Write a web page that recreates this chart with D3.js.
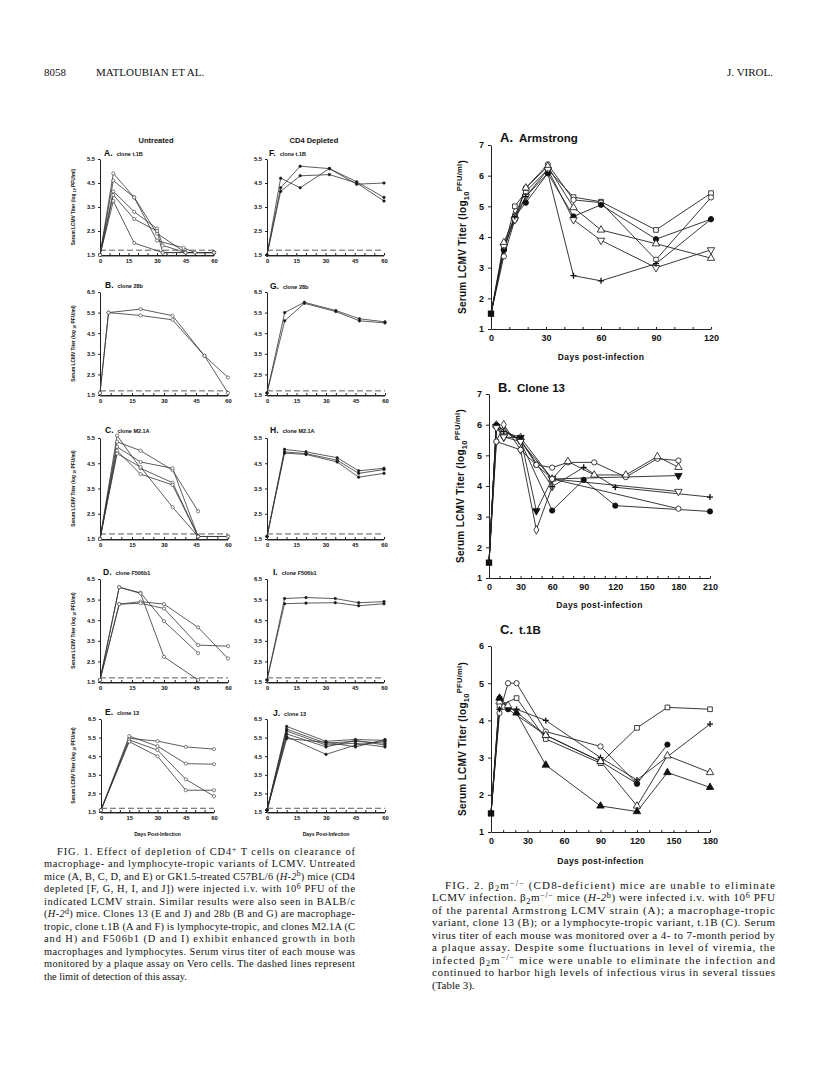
<!doctype html>
<html>
<head>
<meta charset="utf-8">
<script src="https://d3js.org/d3.v7.min.js"></script>
<style>
  body { margin: 0; background: #fff; }
  text { fill: #111; }
</style>
</head>
<body>
<script>

// ---------- data: serum titer, log10 PFU/ml, vs days post-infection ----------
var smallDays = [0, 15, 30, 45, 60];
var ticksLow = [1.5, 2.5, 3.5, 4.5, 5.5];
var ticksHigh = [1.5, 2.5, 3.5, 4.5, 5.5, 6.5];
var detectionLimit = 1.7;

// Fig 1, untreated mice
var untreatedT1B = [
  [[0,1.5],[7,4.9],[18,3.9],[30,2.4],[45,1.6],[60,1.6]],
  [[0,1.5],[7,4.6],[18,3.9],[30,2.1],[44,1.8],[50,1.6],[60,1.6]],
  [[0,1.5],[7,4.15],[18,3.3],[30,2.6],[33,1.9],[45,1.6],[60,1.6]],
  [[0,1.5],[7,4.0],[18,3.0],[30,2.5],[33,1.6],[60,1.6]],
  [[0,1.5],[7,3.75],[18,2.0],[33,1.6],[60,1.6]]
];
var untreated28b = [
  [[0,1.6],[4,5.5],[19,5.67],[34,5.35],[49,3.4],[60,2.35]],
  [[0,1.6],[4,5.5],[19,5.36],[34,5.15],[49,3.4],[60,1.6]]
];
var untreatedM21A = [
  [[0,1.5],[8,5.6],[19,4.3],[34,3.73],[46,1.6],[60,1.6]],
  [[0,1.5],[8,5.35],[19,5.0],[34,4.23],[46,2.6]],
  [[0,1.5],[8,5.15],[19,4.55],[34,4.3],[46,1.6],[60,1.6]],
  [[0,1.5],[8,5.0],[19,4.07],[34,3.64],[46,1.6]],
  [[0,1.5],[8,4.88],[19,4.35],[34,2.76],[46,1.6]]
];
var untreatedF506b1 = [
  [[0,1.6],[9,6.1],[19,5.83],[30,4.45],[46,2.9]],
  [[0,1.6],[9,6.1],[19,5.8],[30,2.72],[46,1.6]],
  [[0,1.6],[9,5.28],[19,5.4],[30,5.28],[46,4.15],[60,2.64]],
  [[0,1.6],[9,5.28],[19,5.32],[30,5.07],[46,3.29],[60,3.24]]
];
var untreatedClone13 = [
  [[0,1.6],[15,5.46],[30,5.31],[45,5.0],[60,4.88]],
  [[0,1.6],[15,5.58],[30,5.04],[45,4.1],[60,4.07]],
  [[0,1.6],[15,5.37],[30,4.83],[45,3.26],[60,2.35]],
  [[0,1.6],[15,5.28],[30,4.5],[45,2.67],[60,2.67]]
];

// Fig 1, CD4 depleted mice
var depletedT1B = [
  [[0,1.5],[7,4.7],[17,4.3],[32,5.1],[46,4.45],[60,4.5]],
  [[0,1.5],[7,4.3],[17,5.2],[32,5.1],[46,4.55],[60,3.9]],
  [[0,1.5],[7,4.15],[17,4.8],[32,4.85],[46,4.5],[60,3.75]]
];
var depleted28b = [
  [[0,1.6],[9,5.5],[19,6.0],[35,5.6],[47,5.2],[60,5.05]],
  [[0,1.6],[9,5.1],[19,5.95],[35,5.55],[47,5.1],[60,5.0]]
];
var depletedM21A = [
  [[0,1.6],[9,5.05],[20,4.95],[36,4.72],[47,4.2],[60,4.3]],
  [[0,1.6],[9,4.95],[20,4.88],[36,4.62],[47,4.1],[60,4.25]],
  [[0,1.6],[9,4.9],[20,4.85],[36,4.55],[47,3.95],[60,4.1]]
];
var depletedF506b1 = [
  [[0,1.6],[9,5.55],[20,5.6],[35,5.55],[47,5.35],[60,5.4]],
  [[0,1.6],[9,5.3],[20,5.33],[35,5.35],[47,5.2],[60,5.3]]
];
var depletedClone13 = [
  [[0,1.6],[10,6.1],[30,5.3],[45,5.4],[60,5.35]],
  [[0,1.6],[10,5.95],[30,5.2],[45,5.3],[60,5.2]],
  [[0,1.6],[10,5.85],[30,5.1],[45,5.2],[60,5.0]],
  [[0,1.6],[10,5.7],[30,5.0],[45,5.35],[60,5.1]],
  [[0,1.6],[10,5.55],[30,4.6],[45,5.1],[60,5.3]],
  [[0,1.6],[10,5.45],[30,5.25],[45,5.0],[60,5.4]]
];

// Fig 2, beta2m-/- mice (symbol, points)
var armstrongSymbols = ["sq", "ci", "cif", "tri", "itri", "plus"];
var armstrong = [
  [[0,1.5],[7,3.6],[13,5.0],[19,5.48],[31,6.2],[45,5.3],[60,5.15],[90,4.23],[120,5.43]],
  [[0,1.5],[7,3.37],[13,4.56],[19,5.6],[31,6.37],[45,5.21],[60,5.12],[90,3.26],[120,5.29]],
  [[0,1.5],[7,3.58],[13,4.67],[19,5.12],[31,6.08],[45,4.67],[60,5.05],[90,3.93],[120,4.58]],
  [[0,1.5],[7,3.82],[13,4.67],[19,5.6],[31,6.3],[45,4.96],[60,4.23],[90,3.78],[120,3.31]],
  [[0,1.5],[7,3.69],[13,4.56],[19,5.32],[31,6.2],[45,4.56],[60,3.89],[90,3.0],[120,3.58]],
  [[0,1.5],[7,3.58],[13,4.67],[19,5.32],[31,6.08],[45,2.74],[60,2.57],[90,3.13],[120,4.58]]
];
var clone13Symbols = ["ci", "tri", "itrif", "dia", "cif", "plus", "itri", "ci"];
var clone13 = [
  [[0,1.5],[7,5.94],[14,5.83],[30,5.5],[45,4.69],[60,4.6],[75,4.77],[100,4.77],[130,4.29],[160,4.89],[180,4.83]],
  [[0,1.5],[7,5.99],[14,5.77],[30,5.58],[60,4.23],[75,4.8],[100,4.36],[130,4.36],[160,4.96],[180,4.61]],
  [[0,1.5],[7,5.94],[14,5.59],[30,5.58],[45,3.19],[60,4.23],[180,4.34]],
  [[0,1.5],[7,5.45],[14,6.0],[30,5.18],[45,2.57],[60,3.98]],
  [[0,1.5],[7,5.99],[30,5.45],[60,3.2],[90,4.2],[120,3.36],[210,3.17]],
  [[0,1.5],[7,5.9],[14,5.77],[30,5.5],[60,3.98],[90,4.61],[120,3.96],[210,3.64]],
  [[0,1.5],[7,5.9],[14,5.6],[30,5.45],[60,4.23],[180,3.82]],
  [[0,1.5],[7,5.45],[30,5.18],[45,4.69],[60,4.23],[180,3.26]]
];
var t1bSymbols = ["sq", "ci", "cif", "plus", "tri", "trif"];
var t1b = [
  [[0,1.5],[7,4.4],[21,4.6],[45,3.5],[90,2.85],[120,3.8],[145,4.35],[180,4.3]],
  [[0,1.5],[7,4.2],[14,5.0],[21,5.0],[45,3.7],[90,3.3],[120,2.3]],
  [[0,1.5],[7,4.6],[14,4.3],[45,3.6],[90,2.9],[120,2.3],[145,3.35]],
  [[0,1.5],[7,4.3],[21,4.3],[45,4.0],[90,3.0],[120,2.4],[180,3.9]],
  [[0,1.5],[7,4.5],[14,4.4],[45,3.6],[90,2.9],[120,1.7],[145,3.05],[180,2.6]],
  [[0,1.5],[7,4.6],[21,4.2],[45,2.8],[90,1.7],[120,1.55],[145,2.6],[180,2.2]]
];

var fig1Caption = [
  "FIG. 1. Effect of depletion of CD4^{+} T cells on clearance of",
  "macrophage- and lymphocyte-tropic variants of LCMV. Untreated",
  "mice (A, B, C, D, and E) or GK1.5-treated C57BL/6 (*H-2*^{b}) mice (CD4",
  "depleted [F, G, H, I, and J]) were injected i.v. with 10^{6} PFU of the",
  "indicated LCMV strain. Similar results were also seen in BALB/c",
  "(*H-2*^{d}) mice. Clones 13 (E and J) and 28b (B and G) are macrophage-",
  "tropic, clone t.1B (A and F) is lymphocyte-tropic, and clones M2.1A (C",
  "and H) and F506b1 (D and I) exhibit enhanced growth in both",
  "macrophages and lymphocytes. Serum virus titer of each mouse was",
  "monitored by a plaque assay on Vero cells. The dashed lines represent",
  "the limit of detection of this assay."
];
var fig2Caption = [
  "FIG. 2. β_{2}m^{−/−} (CD8-deficient) mice are unable to eliminate",
  "LCMV infection. β_{2}m^{−/−} mice (*H-2*^{b}) were infected i.v. with 10^{6} PFU",
  "of the parental Armstrong LCMV strain (A); a macrophage-tropic",
  "variant, clone 13 (B); or a lymphocyte-tropic variant, t.1B (C). Serum",
  "virus titer of each mouse was monitored over a 4- to 7-month period by",
  "a plaque assay. Despite some fluctuations in level of viremia, the",
  "infected β_{2}m^{−/−} mice were unable to eliminate the infection and",
  "continued to harbor high levels of infectious virus in several tissues",
  "(Table 3)."
];

// ---------- drawing ----------
var sans = "'Liberation Sans', Arial, sans-serif";
var serif = "'Liberation Serif', 'Times New Roman', serif";

var svg = d3.select("body").append("svg")
    .attr("width", 816)
    .attr("height", 1076);

// writes "a^{sup}_{sub}*italic*" into a text element as tspans
function richText(sel, str, shift) {
  var parts = str.split(/(\^\{[^}]*\}|_\{[^}]*\}|\*[^*]*\*)/);
  var off = 0;
  parts.forEach(function (p) {
    if (!p) return;
    var t = sel.append("tspan"), d = 0, txt = p;
    if (p[0] == "^") { d = -shift; txt = p.slice(2, -1); t.style("font-size", "75%"); }
    else if (p[0] == "_") { d = shift * 0.6; txt = p.slice(2, -1); t.style("font-size", "75%"); }
    else if (p[0] == "*") { txt = p.slice(1, -1); t.style("font-style", "italic"); }
    t.attr("dy", d - off).text(txt);
    off = d;
  });
}

function styleAxis(g, size) {
  g.selectAll("text").style("font-family", sans).style("font-weight", "bold")
    .style("font-size", size + "px").attr("fill", "#111");
  g.selectAll("line,path").attr("stroke", "#222");
}

// header
svg.append("text").attr("x", 44).attr("y", 76).style("font-family", serif).style("font-size", "11px").text("8058");
svg.append("text").attr("x", 96).attr("y", 76).style("font-family", serif).style("font-size", "11px").text("MATLOUBIAN ET AL.");
svg.append("text").attr("x", 773).attr("y", 76).attr("text-anchor", "end").style("font-family", serif).style("font-size", "11px").text("J. VIROL.");

// column heads of fig 1
svg.append("text").attr("x", 156).attr("y", 143).attr("text-anchor", "middle")
    .style("font-family", sans).style("font-weight", "bold").style("font-size", "7.5px").text("Untreated");
svg.append("text").attr("x", 314).attr("y", 143).attr("text-anchor", "middle")
    .style("font-family", sans).style("font-weight", "bold").style("font-size", "7.5px").text("CD4  Depleted");

function smallPanel(p) {
  var x = d3.scaleLinear().domain([0, 60]).range([p.x0, p.x1]);
  var y = d3.scaleLinear().domain([1.5, p.top]).range([p.yb, p.yt]);
  var g = svg.append("g");

  g.append("g").attr("transform", "translate(" + p.x0 + ",0)")
    .call(d3.axisLeft(y).tickValues(p.top > 6 ? ticksHigh : ticksLow)
      .tickSize(2).tickSizeOuter(0).tickPadding(3).tickFormat(d3.format(".1f")))
    .call(styleAxis, 5.8);

  g.append("g").attr("transform", "translate(0," + p.yb + ")")
    .call(d3.axisBottom(x).tickValues(d3.range(0, 61, 5)).tickSize(-2).tickSizeOuter(0)
      .tickPadding(4).tickFormat(function (d) { return smallDays.indexOf(d) >= 0 ? d : ""; }))
    .call(styleAxis, 5.8);
  g.append("line").attr("x1", p.x0).attr("x2", p.x1).attr("y1", p.yb + 1.5).attr("y2", p.yb + 1.5)
    .attr("stroke", "#999").attr("stroke-width", 1);

  // limit of detection
  g.append("line").attr("x1", p.x0).attr("x2", p.x1)
    .attr("y1", y(detectionLimit)).attr("y2", y(detectionLimit))
    .attr("stroke", "#333").attr("stroke-width", 0.8).attr("stroke-dasharray", "6,3");

  var line = d3.line().x(function (d) { return x(d[0]); }).y(function (d) { return y(d[1]); });
  p.data.forEach(function (s) {
    g.append("path").attr("d", line(s)).attr("fill", "none")
      .attr("stroke", "#333").attr("stroke-width", 0.8);
  });
  p.data.forEach(function (s) {
    g.selectAll(null).data(s).enter().append("circle")
      .attr("cx", function (d) { return x(d[0]); })
      .attr("cy", function (d) { return y(d[1]); })
      .attr("r", p.filled ? 1.3 : 1.6)
      .attr("fill", p.filled ? "#111" : "#fff")
      .attr("stroke", "#333").attr("stroke-width", 0.6);
  });

  var t = g.append("text").attr("x", p.tx).attr("y", p.ty)
    .style("font-family", sans).style("font-weight", "bold");
  t.append("tspan").style("font-size", "8.5px").text(p.letter);
  t.append("tspan").attr("dx", 4).style("font-size", "5.5px").text(p.title);

  if (p.ylabel) {
    var yl = g.append("text")
      .attr("transform", "translate(75," + ((p.yt + p.yb) / 2) + ") rotate(-90)")
      .attr("text-anchor", "middle")
      .style("font-family", sans).style("font-weight", "bold").style("font-size", "4.8px");
    richText(yl, "Serum LCMV Titer (log _{10} PFU/ml)", 2);
  }
  if (p.days) {
    g.append("text").attr("x", (p.x0 + p.x1) / 2).attr("y", 836).attr("text-anchor", "middle")
      .style("font-family", sans).style("font-weight", "bold").style("font-size", "5px")
      .text("Days  Post-Infection");
  }
}

// untreated column
smallPanel({ data: untreatedT1B, letter: "A.", title: "clone  t.1B", x0: 100, x1: 214, yt: 159, yb: 255, top: 5.5, tx: 104, ty: 156, ylabel: true });
smallPanel({ data: untreated28b, letter: "B.", title: "clone  28b", x0: 100, x1: 228, yt: 292, yb: 395, top: 6.5, tx: 105, ty: 288, ylabel: true });
smallPanel({ data: untreatedM21A, letter: "C.", title: "clone  M2.1A", x0: 100, x1: 228, yt: 438, yb: 539, top: 5.5, tx: 105, ty: 433, ylabel: true });
smallPanel({ data: untreatedF506b1, letter: "D.", title: "clone  F506b1", x0: 100, x1: 228, yt: 579, yb: 682, top: 6.5, tx: 103, ty: 575, ylabel: true });
smallPanel({ data: untreatedClone13, letter: "E.", title: "clone  13", x0: 101, x1: 214, yt: 719, yb: 812, top: 6.5, tx: 105, ty: 715, ylabel: true, days: true });

// CD4 depleted column
smallPanel({ data: depletedT1B, letter: "F.", title: "clone  t.1B", x0: 267, x1: 384, yt: 159, yb: 255, top: 5.5, tx: 269, ty: 156, filled: true });
smallPanel({ data: depleted28b, letter: "G.", title: "clone  28b", x0: 267, x1: 385, yt: 292, yb: 395, top: 6.5, tx: 270, ty: 289, filled: true });
smallPanel({ data: depletedM21A, letter: "H.", title: "clone  M2.1A", x0: 267, x1: 384, yt: 438, yb: 539, top: 5.5, tx: 270, ty: 433, filled: true });
smallPanel({ data: depletedF506b1, letter: "I.", title: "clone  F506b1", x0: 267, x1: 384, yt: 579, yb: 682, top: 6.5, tx: 273, ty: 575, filled: true });
smallPanel({ data: depletedClone13, letter: "J.", title: "clone  13", x0: 267, x1: 385, yt: 719, yb: 812, top: 6.5, tx: 273, ty: 716, filled: true, days: true });

// markers for fig 2
function mark(g, type, cx, cy) {
  var m = g.append("g").attr("transform", "translate(" + cx + "," + cy + ")");
  if (type == "plus") {
    m.append("path").attr("d", "M-3,0H3M0,-3V3").attr("stroke", "#111").attr("stroke-width", 1.3);
    return;
  }
  var shapes = { sq: d3.symbolSquare, ci: d3.symbolCircle, tri: d3.symbolTriangle, itri: d3.symbolTriangle, dia: d3.symbolDiamond };
  var base = type.replace(/f$/, "");
  var filled = /f$/.test(type);
  m.append("path")
    .attr("d", d3.symbol().type(shapes[base]).size(base == "tri" || base == "itri" ? 24 : 22)())
    .attr("transform", base == "itri" ? "rotate(180)" : null)
    .attr("fill", filled ? "#111" : "#fff")
    .attr("stroke", "#111").attr("stroke-width", 0.8);
}

function bigPanel(p) {
  var x = d3.scaleLinear().domain([0, p.xmax]).range([p.x0, p.x1]);
  var y = d3.scaleLinear().domain([1, p.ymax]).range([p.yb, p.yt]);
  var g = svg.append("g");

  g.append("g").attr("transform", "translate(" + p.x0 + ",0)")
    .call(d3.axisLeft(y).tickValues(d3.range(1, p.ymax + 1)).tickSize(3).tickSizeOuter(0)
      .tickPadding(4).tickFormat(d3.format("d")))
    .call(styleAxis, 9);
  g.append("g").attr("transform", "translate(0," + p.yb + ")")
    .call(d3.axisBottom(x).tickValues(d3.range(0, p.xmax + 1, 10)).tickSize(-2).tickSizeOuter(0)
      .tickPadding(6).tickFormat(function (d) { return d % 30 ? "" : d; }))
    .call(styleAxis, 9);

  var line = d3.line().x(function (d) { return x(d[0]); }).y(function (d) { return y(d[1]); });
  p.data.forEach(function (s) {
    g.append("path").attr("d", line(s)).attr("fill", "none")
      .attr("stroke", "#222").attr("stroke-width", 0.9);
  });
  p.data.forEach(function (s, i) {
    s.forEach(function (d) {
      if (d[0] > 0) mark(g, p.symbols[i], x(d[0]), y(d[1]));
    });
  });
  // common day-0 inoculum point
  g.append("path").attr("d", d3.symbol().type(d3.symbolSquare).size(40)())
    .attr("transform", "translate(" + x(p.data[0][0][0]) + "," + y(p.data[0][0][1]) + ")")
    .attr("fill", "#111");

  var t = g.append("text").attr("x", p.x0 + 9).attr("y", p.ty)
    .style("font-family", sans).style("font-weight", "bold");
  t.append("tspan").style("font-size", "13px").text(p.letter);
  t.append("tspan").attr("dx", 6).style("font-size", "11.5px").text(p.title);

  var yl = g.append("text")
    .attr("transform", "translate(" + (p.x0 - 25) + "," + ((p.yt + p.yb) / 2) + ") rotate(-90)")
    .attr("text-anchor", "middle")
    .style("font-family", sans).style("font-weight", "bold").style("font-size", "10px")
    .style("letter-spacing", "0.3px");
  richText(yl, "Serum  LCMV  Titer  (log_{10}^{PFU/ml})", 4.5);

  g.append("text").attr("x", (p.x0 + p.x1) / 2).attr("y", p.dy).attr("text-anchor", "middle")
    .style("font-family", sans).style("font-weight", "bold").style("font-size", "8.5px")
    .style("letter-spacing", "0.4px")
    .text("Days  post-infection");
}

bigPanel({ data: armstrong, symbols: armstrongSymbols, letter: "A.", title: "Armstrong",
  xmax: 120, ymax: 7, x0: 491, x1: 711, yt: 145, yb: 329, ty: 142, dy: 360 });
bigPanel({ data: clone13, symbols: clone13Symbols, letter: "B.", title: "Clone  13",
  xmax: 210, ymax: 7, x0: 489, x1: 710, yt: 394, yb: 578, ty: 392, dy: 608 });
bigPanel({ data: t1b, symbols: t1bSymbols, letter: "C.", title: "t.1B",
  xmax: 180, ymax: 6, x0: 491, x1: 710, yt: 646, yb: 832, ty: 634, dy: 864 });

// captions, justified line by line
function caption(lines, x0, x1, y0, indent, size) {
  lines.forEach(function (l, i) {
    var xs = x0 + (i == 0 ? indent : 0);
    var t = svg.append("text").attr("x", xs).attr("y", y0 + i * 12.45)
      .style("font-family", serif).style("font-size", size + "px");
    if (i < lines.length - 1) t.attr("textLength", x1 - xs).attr("lengthAdjust", "spacing");
    richText(t, l, 3.5);
  });
}
caption(fig1Caption, 44, 355, 855, 13, 10.4);
caption(fig2Caption, 432, 775, 889, 13, 11);

</script>
</body>
</html>
